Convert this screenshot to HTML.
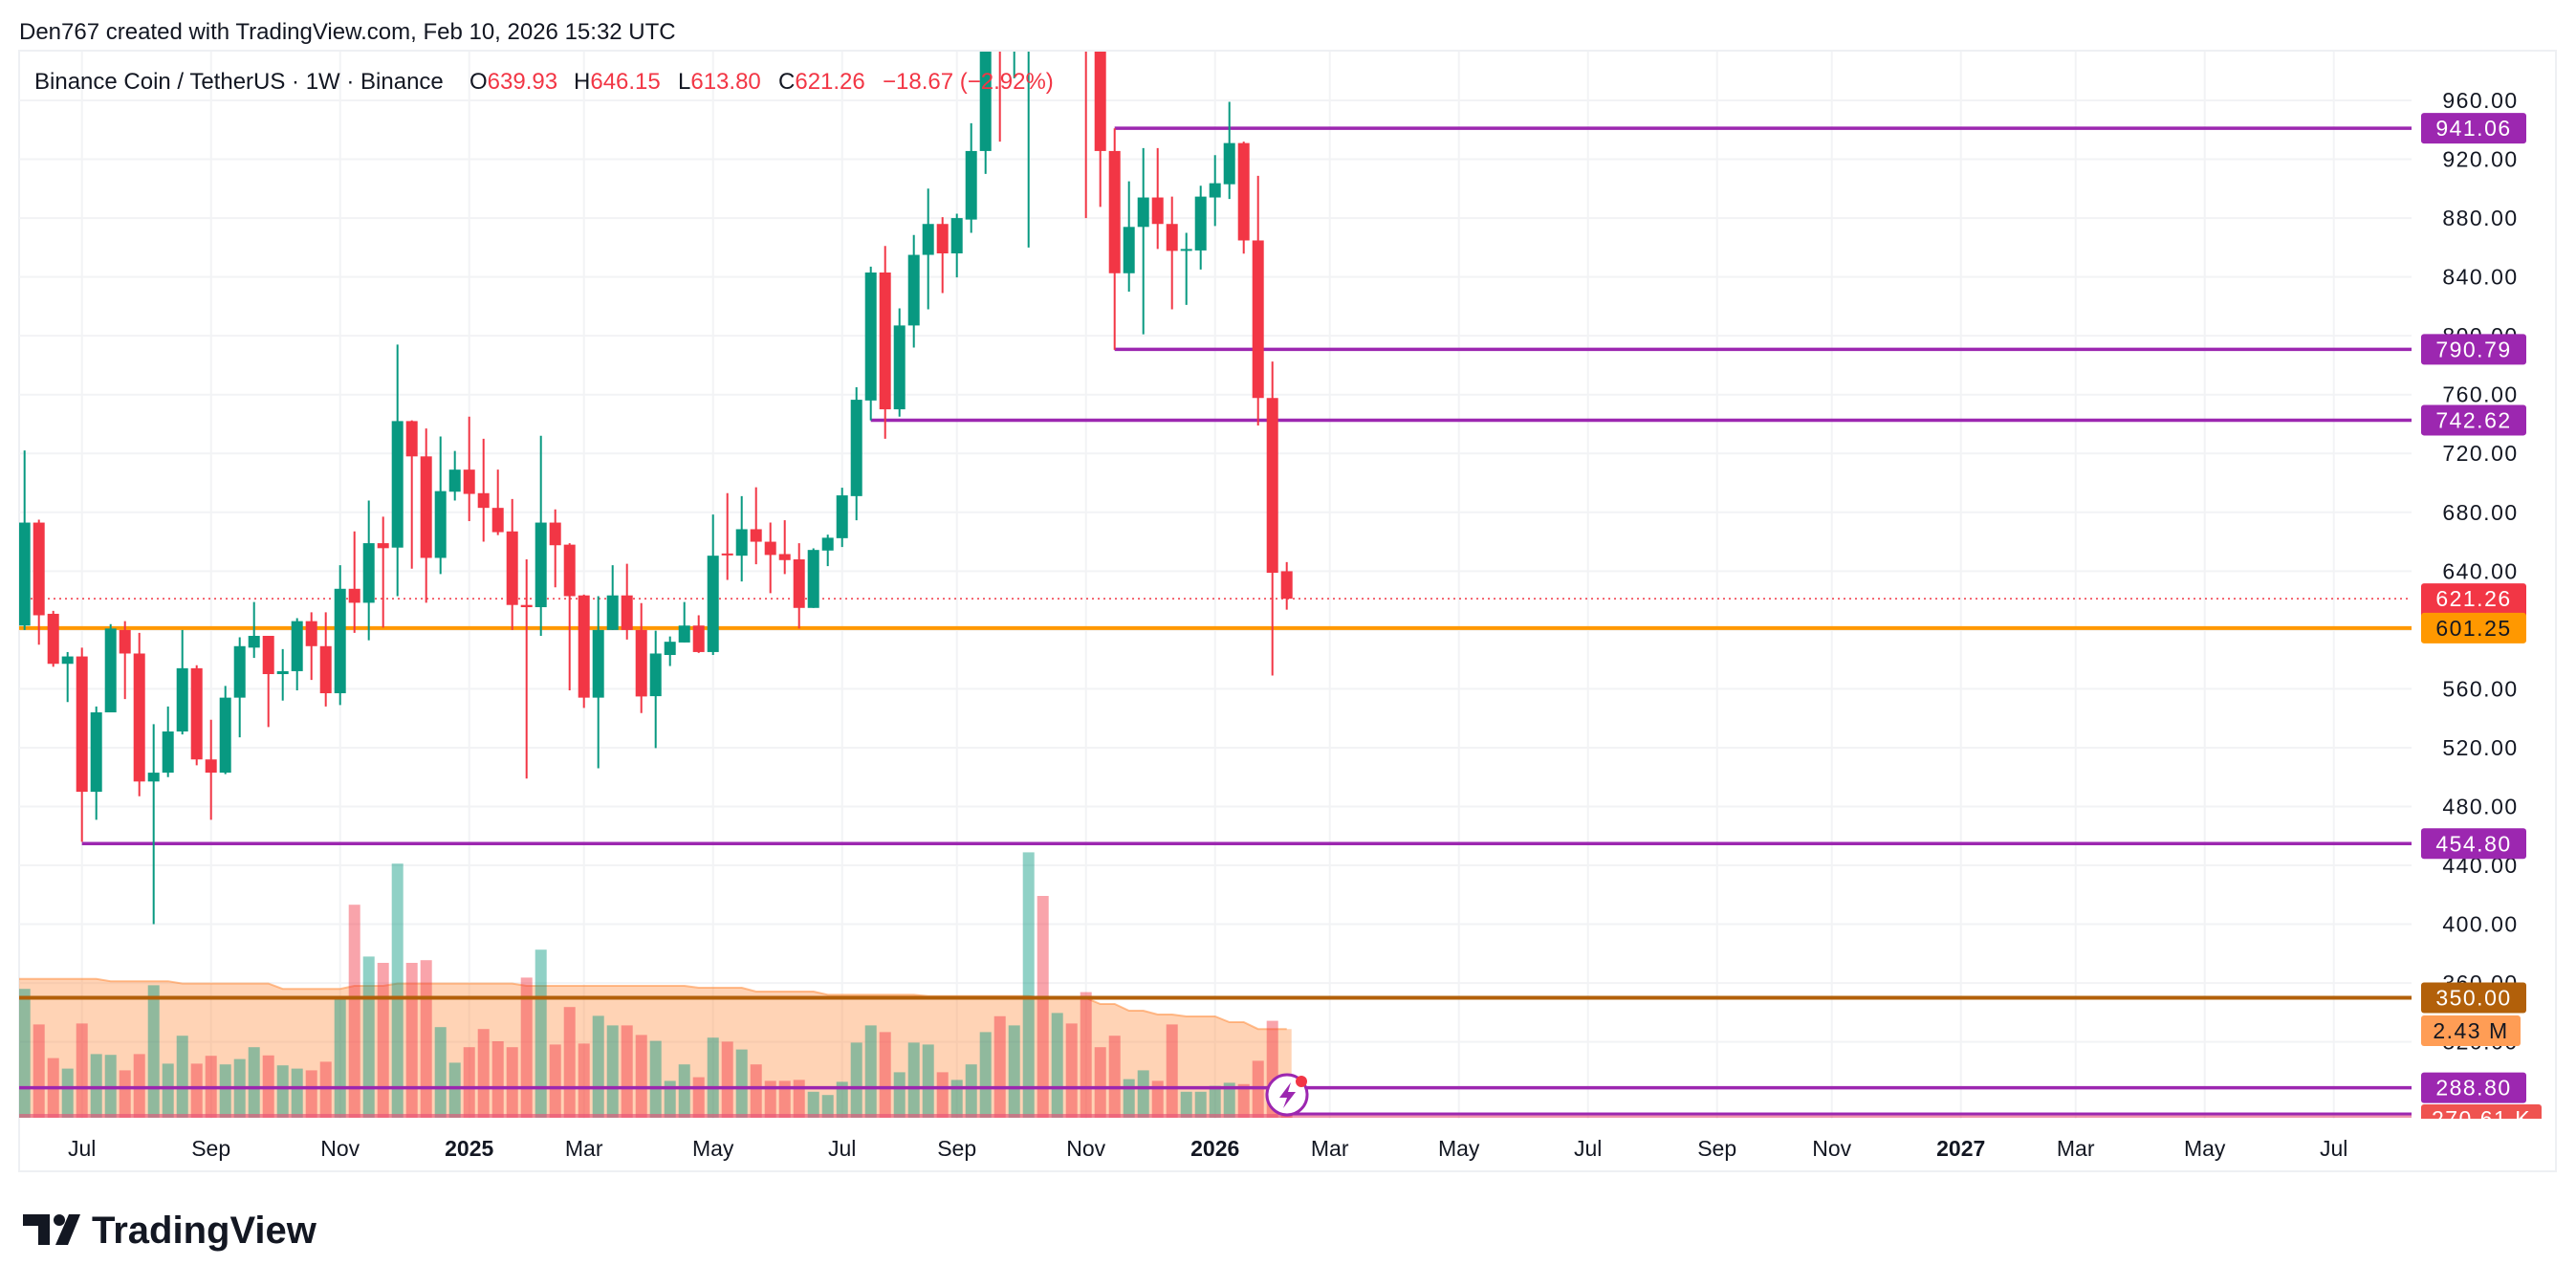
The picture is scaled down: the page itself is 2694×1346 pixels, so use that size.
<!DOCTYPE html>
<html><head><meta charset="utf-8"><title>BNB/USDT 1W chart</title>
<style>
html,body{margin:0;padding:0;background:#fff;}
svg{display:block;font-family:"Liberation Sans",sans-serif;}
</style></head>
<body>
<svg id="chart" width="2694" height="1346" viewBox="0 0 2694 1346" xmlns="http://www.w3.org/2000/svg">
  <rect x="0" y="0" width="2694" height="1346" fill="#ffffff"/>
  <text x="20" y="41" font-size="24" fill="#131722">Den767 created with TradingView.com, Feb 10, 2026 15:32 UTC</text>
  <rect x="20" y="53" width="2653" height="1172" fill="none" stroke="#EEF0F3" stroke-width="2"/>
  <g id="grid"></g>
  <g id="volume"></g>
  <g id="levels"></g>
  <g id="candles"></g>
  <g id="yaxis"></g>
  <g id="xaxis"></g>
  <g id="legend">
    <text x="36" y="93" font-size="24" fill="#131722">Binance Coin / TetherUS · 1W · Binance</text>
    <text x="491" y="93" font-size="24" fill="#131722">O<tspan fill="#F23645">639.93</tspan></text>
    <text x="600" y="93" font-size="24" fill="#131722">H<tspan fill="#F23645">646.15</tspan></text>
    <text x="709" y="93" font-size="24" fill="#131722">L<tspan fill="#F23645">613.80</tspan></text>
    <text x="814" y="93" font-size="24" fill="#131722">C<tspan fill="#F23645">621.26</tspan></text>
    <text x="923" y="93" font-size="24" fill="#F23645">−18.67 (−2.92%)</text>
  </g>
  <g>
    <path d="M24 1270 H52 V1302 H40 V1282 H24 Z" fill="#131722"/>
    <circle cx="62" cy="1276" r="6" fill="#131722"/>
    <path d="M72 1270 H84 L71 1302 H58 Z" fill="#131722"/>
    <text x="96" y="1300" font-size="40" font-weight="bold" fill="#131722">TradingView</text>
  </g>
</svg>
<script>
// ---- data ----
const opens = [603,673,611,577,582,490,544,600,584,497,
503,531,574,512,503,554,588,596,570,572,
606,589,557,628,618.5,659,656,742,718,649,
694,709,693,683,667,617,615.5,673,658,623.5,
554,600,623.5,600,555,583,591.5,603,585,652,
650.5,668.5,660,651.6,648,615,654,662.4,691,756,
843,750,807,855,876,856,879,925.6,1030,1010,
1220,1290,1110,1120,1085,995,925.6,842.5,874,894,
876,858.6,858,894,903,931,864.8,757.7,639.93];
const closes = [673,610,577,582,490,544,601,584,497,503,
531,574,512,503,554,589,596,570,572,606,
589,557,628,618.5,659,655.6,742,718,649,694.4,
709,692.5,683,666.5,617,615.5,673,657.6,623,554,
600,623.5,600,554.8,584,592,603,585,650.5,651,
668.5,660,651,647.5,615,654.4,662.7,691.5,756.5,843,
750,807,855,876,856,880,925.6,1030,1010,1220,
1290,1110,1120,1085,995,925.6,842.5,874,894,876,
857.7,859,894.6,903.7,931,864.8,757.7,638.9,621.26];
const highs = [722,675,613,585,588,548,604,606,598,536,
548,600,576,539,562,595,619,596,587,608,
612,612,644,667,688,677,794,742.5,737,731.5,
721.7,745,730,709,689,648,732,682,659,624,
623,644,645,618.3,599.5,595.6,619,610,678.5,693,
691,697,673,674.6,659,655.5,664.8,696.7,765,847,
861,818.6,868.5,900,880.6,883,944.5,1050,1060,1225,
1370,1300,1150,1130,1090,1010,941,905,927.6,927.6,
894.6,870,902,922.8,959,932,908.7,782.5,646.15];
const lows = [600,590,575,551,456,471,544,553,487,400,
500,529,508,471,502,527,581,534,552,559,
566,548,549,598,593,601.6,623,641.7,618.5,638,
688,674,660,664.5,600,499,596,629,559,547,
506,600,593.5,543.5,519.7,575.5,591.5,584.4,583,634,
633,644.7,625,638,601,615,643.4,656.4,674.6,742.5,
730,745,792,818,829,839.7,870,910,932,975,
860,1060,1070,995,880,887.6,790.4,830,801,859,
818,821,845,874.6,893,855.8,739,569,613.8];
const volumes = [6.74,4.88,3.12,2.57,4.93,3.33,3.29,2.48,3.33,6.93,
2.83,4.29,2.83,3.24,2.79,3.07,3.69,3.26,2.74,2.57,
2.48,2.93,6.31,11.14,8.43,8.10,13.29,8.10,8.24,4.74,
2.88,3.69,4.64,4.00,3.69,7.33,8.79,3.83,5.79,3.88,
5.33,4.83,4.83,4.33,4.02,1.93,2.79,2.12,4.19,3.98,
3.57,2.79,1.93,1.93,1.98,1.36,1.19,1.88,3.93,4.83,
4.48,2.38,3.93,3.83,2.38,1.98,2.79,4.48,5.31,4.83,
13.88,11.60,5.48,4.93,6.57,3.69,4.29,2.02,2.48,1.93,
4.88,1.36,1.36,1.67,1.83,1.76,2.98,5.07,0.5];
const volumeMA = [7.26,7.26,7.26,7.26,7.26,7.26,7.14,7.14,7.14,7.14,
7.14,7.02,7.02,7.02,7.02,7.02,7.02,7.02,6.74,6.74,
6.74,6.74,6.74,6.9,6.9,6.9,7.02,7.02,7.02,7.02,
7.02,7.02,7.02,7.02,7.02,6.9,6.9,6.9,6.9,6.9,
6.9,6.9,6.9,6.9,6.9,6.9,6.9,6.8,6.8,6.8,
6.8,6.6,6.6,6.6,6.6,6.6,6.43,6.43,6.43,6.43,
6.43,6.43,6.43,6.36,6.36,6.36,6.36,6.36,6.36,6.36,
6.36,6.26,6.26,6.26,6.26,5.95,5.95,5.6,5.6,5.4,
5.4,5.3,5.3,5.3,5.0,5.0,4.64,4.64,4.64];
const priceTicks = [960,920,880,840,800,760,720,680,640,600,560,520,480,440,400,360,320];
const timeLabels = ["Jul","Sep","Nov","2025","Mar","May","Jul","Sep","Nov","2026","Mar","May","Jul","Sep","Nov","2027","Mar","May","Jul"];
const timeDates = ["2024-07-01","2024-09-01","2024-11-01","2025-01-01","2025-03-01","2025-05-01","2025-07-01","2025-09-01","2025-11-01","2026-01-01","2026-03-01","2026-05-01","2026-07-01","2026-09-01","2026-11-01","2027-01-01","2027-03-01","2027-05-01","2027-07-01"];
const levelPrices = [941.06, 790.79, 742.62, 454.80, 350.00, 288.80];
const levelStartIdx = [76, 76, 59, 4, -2, -2];
const supportPrice = 601.25;
const lastPrice = 621.26;

// ---- scales ----
const NS = "http://www.w3.org/2000/svg";
const PLOT_L = 20, PLOT_R = 2522, PLOT_T = 54, PLOT_B = 1170;
const firstDate = Date.UTC(2024,5,3);
function x(i){ return 25.7 + 15*i; }
function xDate(s){ const p=s.split("-").map(Number); const t=Date.UTC(p[0],p[1]-1,p[2]); return x(Math.ceil((t-firstDate)/(7*864e5)-1e-9)); }
function y(p){ return 105 + (960-p)*61.54/40; }
function vh(v){ return v*20; }
function mk(tag, attrs, parent){ const e=document.createElementNS(NS,tag); for(const k in attrs) e.setAttribute(k,attrs[k]); parent.appendChild(e); return e; }

const svg = document.getElementById("chart");
const defs = mk("defs",{},svg);
const cp = mk("clipPath",{id:"plotclip"},defs);
mk("rect",{x:PLOT_L,y:PLOT_T,width:PLOT_R-PLOT_L,height:PLOT_B-PLOT_T},cp);

// grid
const grid = document.getElementById("grid");
priceTicks.forEach(p=>{
  const l = mk("line",{x1:PLOT_L,x2:PLOT_R,y1:y(p),y2:y(p),stroke:"#F2F3F5","stroke-width":2},grid);
  
  
});
timeDates.forEach(d=>{
  const l = mk("line",{x1:xDate(d),x2:xDate(d),y1:PLOT_T,y2:PLOT_B,stroke:"#F2F3F5","stroke-width":2},grid);
  
  
});

// volume
const vol = document.getElementById("volume");
vol.setAttribute("clip-path","url(#plotclip)");
const VB = 1169;
let pts = [];
volumeMA.forEach((m,i)=>pts.push(x(i)+","+(VB-vh(m))));
const area = mk("polygon",{points:PLOT_L+","+(VB-vh(volumeMA[0]))+" "+pts.join(" ")+" "+(x(volumeMA.length-1)+5)+","+(VB-vh(volumeMA[volumeMA.length-1]))+" "+(x(volumeMA.length-1)+5)+","+VB+" "+PLOT_L+","+VB,fill:"rgba(255,140,60,0.38)"},vol);


const maLine = mk("polyline",{points:PLOT_L+","+(VB-vh(volumeMA[0]))+" "+pts.join(" "),fill:"none",stroke:"rgba(255,140,60,0.55)","stroke-width":2},vol);


volumes.forEach((v,i)=>{
  const up = closes[i]>=opens[i];
  const r = mk("rect",{x:x(i)-6,y:VB-vh(v),width:12,height:vh(v),fill:up?"rgba(8,153,129,0.45)":"rgba(242,54,69,0.45)"},vol);
  
  
});

// levels
const lv = document.getElementById("levels");
const red2 = mk("line",{x1:PLOT_L,x2:PLOT_R,y1:1167,y2:1167,stroke:"rgba(230,80,120,0.6)","stroke-width":4},lv);


const low2 = mk("line",{x1:1346,x2:PLOT_R,y1:1165,y2:1165,stroke:"#9C27B0","stroke-width":3},lv);


levelPrices.forEach((p,k)=>{
  const x0 = levelStartIdx[k]<0?PLOT_L:x(levelStartIdx[k]);
  const col = p===350?"#B2600A":"#9C27B0";
  const l = mk("line",{x1:x0,x2:PLOT_R,y1:y(p),y2:y(p),stroke:col,"stroke-width":p===350?4:3.5},lv);
  
  
});
const sup = mk("line",{x1:PLOT_L,x2:PLOT_R,y1:y(supportPrice),y2:y(supportPrice),stroke:"#FF9800","stroke-width":4},lv);


const lp = mk("line",{x1:PLOT_L,x2:PLOT_R,y1:y(lastPrice),y2:y(lastPrice),stroke:"#F23645","stroke-width":1.5,"stroke-dasharray":"2 4"},lv);



// candles
const cg = document.getElementById("candles");
cg.setAttribute("clip-path","url(#plotclip)");
opens.forEach((o,i)=>{
  const c=closes[i], up=c>=o, col=up?"#089981":"#F23645";
  const g = mk("g",{},cg);
  
  
  const w = mk("line",{x1:x(i),x2:x(i),y1:y(highs[i]),y2:y(lows[i]),stroke:col,"stroke-width":2},g);
  
  
  const top=y(Math.max(o,c)), h=Math.max(2,Math.abs(y(o)-y(c)));
  const b = mk("rect",{x:x(i)-6,y:top,width:12,height:h,fill:col},g);
  
  
});

// lightning icon
const ic = mk("g",{},svg);


mk("circle",{cx:1346,cy:1145,r:21,fill:"#fff",stroke:"#9C27B0","stroke-width":3},ic);
mk("path",{d:"M1350 1132 L1338 1148 H1346 L1342 1159 L1355 1142 H1347 Z",fill:"#9C27B0"},ic);
mk("circle",{cx:1361,cy:1131,r:6,fill:"#F23645"},ic);

// price axis
const ya = document.getElementById("yaxis");
priceTicks.forEach(p=>{
  if(p===600) return;
  const t = mk("text",{x:2594,y:y(p)+8,"font-size":23,"text-anchor":"middle",fill:"#131722","letter-spacing":"1.5"},ya);
  t.textContent = p.toFixed(2);
  
  
});
function badge(p, text, bg, fg, w, name, h, sub){
  const yy=y(p);
  const g = mk("g",{},ya);
  
  
  mk("rect",{x:2532,y:yy-16,width:w,height:h||32,rx:3,fill:bg},g);
  const t = mk("text",{x:2532+w/2,y:yy+8,"font-size":23,"text-anchor":"middle",fill:fg,"letter-spacing":"1.5"},g);
  t.textContent=text;
  if(sub){ const s=mk("text",{x:2532+w/2,y:yy+38,"font-size":23,"text-anchor":"middle",fill:"#FFD0D4","letter-spacing":"1.5"},g); s.textContent=sub; }
}
badge(941.06,"941.06","#9C27B0","#fff",110,"badge-941");
badge(790.79,"790.79","#9C27B0","#fff",110,"badge-790");
badge(742.62,"742.62","#9C27B0","#fff",110,"badge-742");
badge(lastPrice,"621.26","#F23645","#fff",110,"badge-last-price",62,"5d 9h");
badge(supportPrice,"601.25","#FF9800","#131722",110,"badge-support");
badge(454.80,"454.80","#9C27B0","#fff",110,"badge-454");
badge(350,"350.00","#B2600A","#fff",110,"badge-350");
(function(){const g=mk("g",{},ya);
 mk("rect",{x:2532,y:1062,width:104,height:32,rx:3,fill:"#FF9D55"},g);
 const t=mk("text",{x:2584,y:1086,"font-size":23,"text-anchor":"middle",fill:"#131722","letter-spacing":"1.5"},g);t.textContent="2.43 M";})();
badge(288.80,"288.80","#9C27B0","#fff",110,"badge-288");
(function(){const g=mk("g",{},ya);
 const c=mk("clipPath",{id:"vclip"},defs);mk("rect",{x:2520,y:1150,width:160,height:20},c);
 g.setAttribute("clip-path","url(#vclip)");
 mk("rect",{x:2532,y:1155,width:126,height:32,rx:3,fill:"#EF5350"},g);
 const t=mk("text",{x:2595,y:1178,"font-size":23,"text-anchor":"middle",fill:"#fff","letter-spacing":"1.5"},g);t.textContent="270.61 K";})();

// time axis
const xa = document.getElementById("xaxis");
timeLabels.forEach((s,k)=>{
  const yr = /^\d{4}$/.test(s);
  const t = mk("text",{x:xDate(timeDates[k]),y:1209,"font-size":23,"text-anchor":"middle",fill:"#131722","font-weight":yr?"bold":"normal"},xa);
  t.textContent = s;
  
  
});
</script>
</body></html>
